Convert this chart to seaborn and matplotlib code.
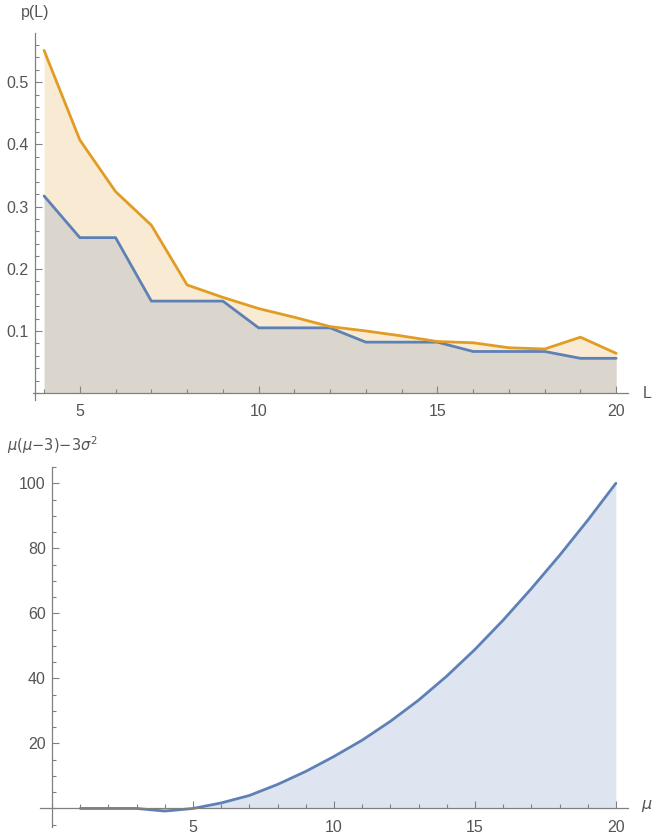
import numpy as np
import pandas as pd
import matplotlib
matplotlib.use("Agg")
import matplotlib.pyplot as plt
from matplotlib.ticker import MultipleLocator
import seaborn as sns

# top panel: p(L) for two series
L_VALUES = list(range(4, 21))
P_BLUE = [0.317, 0.250, 0.250, 0.148, 0.148, 0.148, 0.105, 0.105, 0.105,
          0.082, 0.082, 0.082, 0.067, 0.067, 0.067, 0.056, 0.056]
P_ORANGE = [0.551, 0.407, 0.324, 0.270, 0.174, 0.154, 0.136, 0.122, 0.107,
            0.100, 0.092, 0.083, 0.081, 0.073, 0.071, 0.090, 0.064]

# bottom panel: mu(mu-3) - 3 sigma^2
MU_VALUES = list(range(1, 21))
MOMENT = [0.0, 0.0, 0.0, -0.8, 0.0, 1.7, 4.0, 7.4, 11.4, 16.0,
          21.0, 26.8, 33.3, 40.7, 48.9, 57.9, 67.6, 77.8, 88.6, 100.0]

BLUE = "#5E81B5"
ORANGE = "#E19C24"
AXIS_GREY = "#808080"
TEXT_GREY = "#555555"

sns.set_style("white")
plt.rcParams["font.family"] = ["Liberation Sans", "DejaVu Sans"]
plt.rcParams["mathtext.fontset"] = "dejavusans"

top_df = pd.DataFrame({
    "L": L_VALUES * 2,
    "p": P_BLUE + P_ORANGE,
    "series": ["blue"] * len(L_VALUES) + ["orange"] * len(L_VALUES),
})
bottom_df = pd.DataFrame({"mu": MU_VALUES, "m": MOMENT})

fig = plt.figure(figsize=(6.52, 8.4), dpi=100)
ax1 = fig.add_axes([33 / 652, 1 - 400 / 840, (628 - 33) / 652, (400 - 33) / 840])
ax2 = fig.add_axes([40 / 652, 1 - 827 / 840, (628 - 40) / 652, (827 - 467) / 840])


def style_axes(ax, x_cross, y_cross):
    for side in ["top", "right"]:
        ax.spines[side].set_visible(False)
    ax.spines["left"].set_position(("data", x_cross))
    ax.spines["bottom"].set_position(("data", y_cross))
    for side in ["left", "bottom"]:
        ax.spines[side].set_color(AXIS_GREY)
        ax.spines[side].set_linewidth(0.9)
    ax.tick_params(which="both", direction="in", colors=AXIS_GREY, width=0.8,
                   labelcolor=TEXT_GREY, labelsize=11.5,
                   bottom=True, left=True, top=False, right=False)
    ax.tick_params(which="major", length=5)
    ax.tick_params(which="minor", length=2.8)
    ax.tick_params(axis="x", pad=8)
    ax.tick_params(axis="y", pad=4.5)
    ax.set_xlabel("")
    ax.set_ylabel("")


# top panel
ax1.fill_between(L_VALUES, P_ORANGE, 0, color=ORANGE, alpha=0.2, lw=0)
ax1.fill_between(L_VALUES, P_BLUE, 0, color=BLUE, alpha=0.2, lw=0)
sns.lineplot(data=top_df, x="L", y="p", hue="series",
             palette={"blue": BLUE, "orange": ORANGE},
             linewidth=2, legend=False, ax=ax1)
ax1.set_xlim(3.69, 20.33)
ax1.set_ylim(-0.011, 0.579)
style_axes(ax1, 3.75, 0)
ax1.xaxis.set_major_locator(MultipleLocator(5))
ax1.xaxis.set_minor_locator(MultipleLocator(1))
ax1.set_yticks([0.1, 0.2, 0.3, 0.4, 0.5])
ax1.set_yticklabels(["0.1", "0.2", "0.3", "0.4", "0.5"])
ax1.yaxis.set_minor_locator(MultipleLocator(0.02))

# bottom panel
ax2.fill_between(MU_VALUES, MOMENT, 0, color=BLUE, alpha=0.2, lw=0)
sns.lineplot(data=bottom_df, x="mu", y="m", color=BLUE, linewidth=2, ax=ax2)
ax2.set_xlim(-0.43, 20.43)
ax2.set_ylim(-5.7, 105)
style_axes(ax2, 0, 0)
ax2.set_xticks([5, 10, 15, 20])
ax2.xaxis.set_minor_locator(MultipleLocator(1))
ax2.set_yticks([20, 40, 60, 80, 100])
ax2.yaxis.set_minor_locator(MultipleLocator(5))

# axis labels, Mathematica style at the axis ends
fig.text(35 / 652, 1 - 13 / 840, "p(L)", ha="center", va="center",
         fontsize=11.5, color=TEXT_GREY)
fig.text(643 / 652, 1 - 394 / 840, "L", ha="left", va="center",
         fontsize=11.5, color=TEXT_GREY)
fig.text(7 / 652, 1 - 445 / 840, r"$\mu(\mu{-}3){-}3\sigma^2$", ha="left", va="center",
         fontsize=10.5, color=TEXT_GREY)
fig.text(641 / 652, 1 - 806 / 840, r"$\mu$", ha="left", va="center",
         fontsize=11.5, color=TEXT_GREY)

fig.savefig("out.png", dpi=100)
